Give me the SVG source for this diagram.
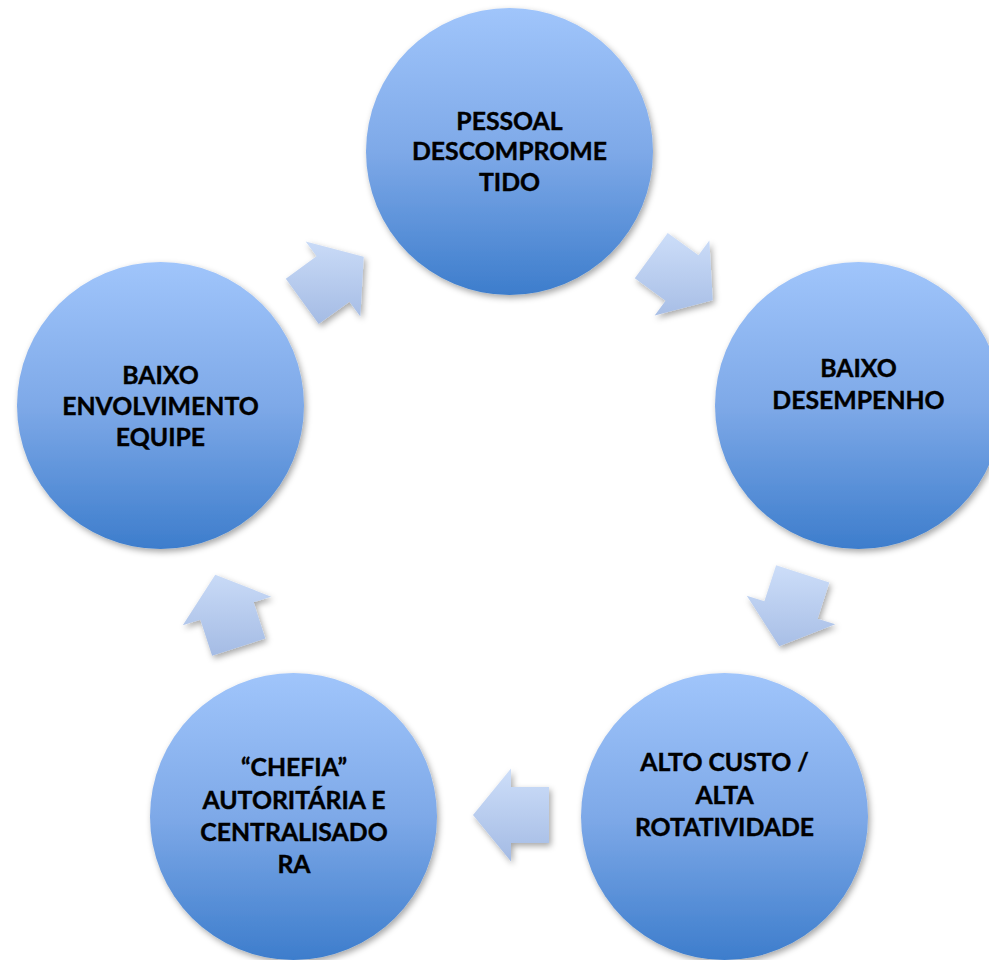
<svg xmlns="http://www.w3.org/2000/svg" xmlns:xlink="http://www.w3.org/1999/xlink" width="989" height="960" viewBox="0 0 989 960">
<defs>
<linearGradient id="cg" x1="0" y1="0" x2="0" y2="1">
<stop offset="0" stop-color="#A0C5FB"/>
<stop offset="0.5" stop-color="#7EA9E8"/>
<stop offset="1" stop-color="#3D7DCC"/>
</linearGradient>
<linearGradient id="ag" gradientUnits="userSpaceOnUse" x1="0" y1="-46" x2="0" y2="46">
<stop offset="0" stop-color="#CDDEF9"/>
<stop offset="1" stop-color="#A4BBE4"/>
</linearGradient>
<linearGradient id="ag1" href="#ag" xlink:href="#ag" gradientTransform="rotate(36)"/>
<linearGradient id="ag2" href="#ag" xlink:href="#ag" gradientTransform="rotate(-36)"/>
<linearGradient id="ag3" href="#ag" xlink:href="#ag" gradientTransform="rotate(-108)"/>
<linearGradient id="ag4" href="#ag" xlink:href="#ag" gradientTransform="rotate(-180)"/>
<linearGradient id="ag5" href="#ag" xlink:href="#ag" gradientTransform="rotate(108)"/>
<filter id="sh" x="-20%" y="-20%" width="140%" height="140%">
<feDropShadow dx="2" dy="3" stdDeviation="3" flood-color="#000" flood-opacity="0.35"/>
</filter>
<polygon id="arrow" points="-38,-28 0,-28 0,-46.5 38,0 0,46.5 0,28 -38,28"/>
</defs>
<style>
.node circle { fill: url(#cg); filter: url(#sh); }
.node text { font-family: Lato, "Liberation Sans", Arial, sans-serif; font-weight: bold; font-size: 24.8px; fill: #000; stroke: #000; stroke-width: 0.4px; text-anchor: middle; }
.conn g { filter: url(#sh); }
</style>
<rect width="989" height="960" fill="#fff"/>
<g id="connectors" class="conn">
<g transform="translate(333,279)"><use href="#arrow" xlink:href="#arrow" transform="rotate(-36)" fill="url(#ag1)"/></g>
<g transform="translate(682,278)"><use href="#arrow" xlink:href="#arrow" transform="rotate(36)" fill="url(#ag2)"/></g>
<g transform="translate(791,610)"><use href="#arrow" xlink:href="#arrow" transform="rotate(108)" fill="url(#ag3)"/></g>
<g transform="translate(511,815)"><use href="#arrow" xlink:href="#arrow" transform="rotate(180)" fill="url(#ag4)"/></g>
<g transform="translate(227,611)"><use href="#arrow" xlink:href="#arrow" transform="rotate(-108)" fill="url(#ag5)"/></g>
</g>
<g id="node-pessoal" class="node">
<circle cx="509.5" cy="151.5" r="143.5"/>
<text x="509.5" y="129.5">PESSOAL</text>
<text x="509.5" y="160">DESCOMPROME</text>
<text x="509.5" y="190.5">TIDO</text>
</g>
<g id="node-desempenho" class="node">
<circle cx="858.5" cy="405.5" r="143.5"/>
<text x="858.5" y="377">BAIXO</text>
<text x="858.5" y="409">DESEMPENHO</text>
</g>
<g id="node-custo" class="node">
<circle cx="724.5" cy="816.5" r="143.5"/>
<text x="724.5" y="771">ALTO CUSTO /</text>
<text x="724.5" y="803.5">ALTA</text>
<text x="724.5" y="836">ROTATIVIDADE</text>
</g>
<g id="node-chefia" class="node">
<circle cx="293.5" cy="816.5" r="143.5"/>
<text x="294" y="776">“CHEFIA”</text>
<text x="294" y="808.5">AUTORITÁRIA E</text>
<text x="294" y="841">CENTRALISADO</text>
<text x="294" y="873">RA</text>
</g>
<g id="node-envolvimento" class="node">
<circle cx="160.5" cy="405.5" r="143.5"/>
<text x="160.5" y="383.5">BAIXO</text>
<text x="160.5" y="414.5">ENVOLVIMENTO</text>
<text x="160.5" y="445.5">EQUIPE</text>
</g>
</svg>
